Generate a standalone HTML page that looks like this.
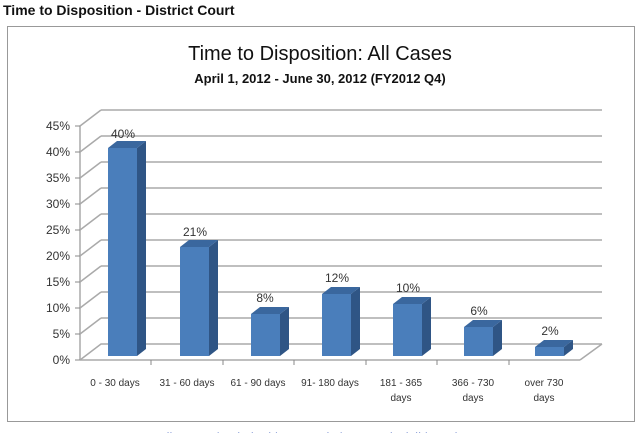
<!DOCTYPE html>
<html><head><style>
body{margin:0;width:640px;height:433px;background:#fff;overflow:hidden;font-family:"Liberation Sans",sans-serif}
</style></head><body>
<svg width="640" height="433" xmlns="http://www.w3.org/2000/svg" font-family="Liberation Sans, DejaVu Sans, sans-serif">
<text x="3" y="15" font-size="14" font-weight="bold" fill="#111">Time to Disposition - District Court</text>
<rect x="7.5" y="26.5" width="627" height="395" fill="#fff" stroke="#999"/>
<text x="320" y="60" font-size="20" text-anchor="middle" fill="#111">Time to Disposition:  All Cases</text>
<text x="320" y="83" font-size="13" font-weight="bold" text-anchor="middle" fill="#111">April 1, 2012 - June 30, 2012 (FY2012 Q4)</text>
<g stroke="#aaa" stroke-width="1.5" fill="none">
<path d="M80 360 L101 344 L602 344 M580 360 L602 344"/>
<path d="M80 360 L580 360"/>
</g>
<g stroke="#aaa" stroke-width="1.5">
<line x1="101" y1="318" x2="602" y2="318"/><line x1="80" y1="334" x2="101" y2="318"/>
<line x1="101" y1="292" x2="602" y2="292"/><line x1="80" y1="308" x2="101" y2="292"/>
<line x1="101" y1="266" x2="602" y2="266"/><line x1="80" y1="282" x2="101" y2="266"/>
<line x1="101" y1="240" x2="602" y2="240"/><line x1="80" y1="256" x2="101" y2="240"/>
<line x1="101" y1="214" x2="602" y2="214"/><line x1="80" y1="230" x2="101" y2="214"/>
<line x1="101" y1="188" x2="602" y2="188"/><line x1="80" y1="204" x2="101" y2="188"/>
<line x1="101" y1="162" x2="602" y2="162"/><line x1="80" y1="178" x2="101" y2="162"/>
<line x1="101" y1="136" x2="602" y2="136"/><line x1="80" y1="152" x2="101" y2="136"/>
<line x1="101" y1="110" x2="602" y2="110"/><line x1="80" y1="126" x2="101" y2="110"/>
<line x1="80" y1="126" x2="80" y2="360"/>
</g>
<g stroke="#888" stroke-width="1">
<line x1="75" y1="360" x2="80" y2="360"/><line x1="75" y1="334" x2="80" y2="334"/><line x1="75" y1="308" x2="80" y2="308"/><line x1="75" y1="282" x2="80" y2="282"/><line x1="75" y1="256" x2="80" y2="256"/><line x1="75" y1="230" x2="80" y2="230"/><line x1="75" y1="204" x2="80" y2="204"/><line x1="75" y1="178" x2="80" y2="178"/><line x1="75" y1="152" x2="80" y2="152"/><line x1="75" y1="126" x2="80" y2="126"/>
<line x1="151" y1="360" x2="151" y2="365"/><line x1="223" y1="360" x2="223" y2="365"/><line x1="294" y1="360" x2="294" y2="365"/><line x1="366" y1="360" x2="366" y2="365"/><line x1="437" y1="360" x2="437" y2="365"/><line x1="509" y1="360" x2="509" y2="365"/>
</g>
<g font-size="12" fill="#333" text-anchor="end">
<text x="70" y="364">0%</text><text x="70" y="338">5%</text><text x="70" y="312">10%</text><text x="70" y="286">15%</text><text x="70" y="260">20%</text><text x="70" y="234">25%</text><text x="70" y="208">30%</text><text x="70" y="182">35%</text><text x="70" y="156">40%</text><text x="70" y="130">45%</text>
</g>
<g>
<g><rect x="108" y="148" width="29" height="208" fill="#4a7ebb"/><polygon points="137,148 146,141 146,349 137,356" fill="#2f5585"/><polygon points="108,148 117,141 146,141 137,148" fill="#3a679e"/></g>
<g><rect x="180" y="247" width="29" height="109" fill="#4a7ebb"/><polygon points="209,247 218,240 218,349 209,356" fill="#2f5585"/><polygon points="180,247 189,240 218,240 209,247" fill="#3a679e"/></g>
<g><rect x="251" y="314" width="29" height="42" fill="#4a7ebb"/><polygon points="280,314 289,307 289,349 280,356" fill="#2f5585"/><polygon points="251,314 260,307 289,307 280,314" fill="#3a679e"/></g>
<g><rect x="322" y="294" width="29" height="62" fill="#4a7ebb"/><polygon points="351,294 360,287 360,349 351,356" fill="#2f5585"/><polygon points="322,294 331,287 360,287 351,294" fill="#3a679e"/></g>
<g><rect x="393" y="304" width="29" height="52" fill="#4a7ebb"/><polygon points="422,304 431,297 431,349 422,356" fill="#2f5585"/><polygon points="393,304 402,297 431,297 422,304" fill="#3a679e"/></g>
<g><rect x="464" y="327" width="29" height="29" fill="#4a7ebb"/><polygon points="493,327 502,320 502,349 493,356" fill="#2f5585"/><polygon points="464,327 473,320 502,320 493,327" fill="#3a679e"/></g>
<g><rect x="535" y="347" width="29" height="9" fill="#4a7ebb"/><polygon points="564,347 573,340 573,349 564,356" fill="#2f5585"/><polygon points="535,347 544,340 573,340 564,347" fill="#3a679e"/></g>
</g>
<g font-size="12" fill="#333" text-anchor="middle">
<text x="123" y="138">40%</text><text x="195" y="236">21%</text><text x="265" y="302">8%</text><text x="337" y="282">12%</text><text x="408" y="292">10%</text><text x="479" y="315">6%</text><text x="550" y="335">2%</text>
</g>
<g font-size="10" fill="#333" text-anchor="middle">
<text x="115" y="386">0 - 30 days</text>
<text x="187" y="386">31 - 60 days</text>
<text x="258" y="386">61 - 90 days</text>
<text x="330" y="386">91- 180 days</text>
<text x="401" y="386">181 - 365</text><text x="401" y="401">days</text>
<text x="473" y="386">366 - 730</text><text x="473" y="401">days</text>
<text x="544" y="386">over 730</text><text x="544" y="401">days</text>
</g>
<text x="315" y="442" font-size="13" fill="#3355bb" text-anchor="middle">All Cases | Criminal | Domestic | General Civil | Docket</text>
</svg>
</body></html>
